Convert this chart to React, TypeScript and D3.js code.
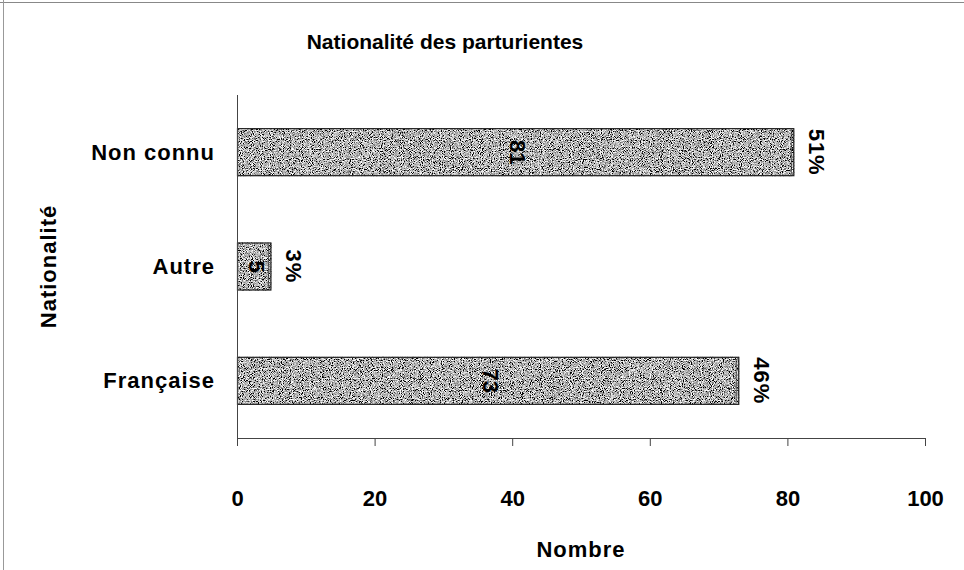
import React from 'react';
import * as d3 from 'd3';

// data
const categories = ['Non connu', 'Autre', 'Française'];
const counts = [81, 5, 73];
const xTicks = [0, 20, 40, 60, 80, 100];

const title = 'Nationalité des parturientes';
const xTitle = 'Nombre';
const yTitle = 'Nationalité';

const W = 964;
const H = 570;
const margin = { top: 95, right: 39, bottom: 132, left: 237 };
const font = '"Liberation Sans", Arial, sans-serif';

export default function App() {
    const innerW = W - margin.left - margin.right;
    const innerH = H - margin.top - margin.bottom;
    const total = d3.sum(counts);

    const x = d3.scaleLinear().domain([0, 100]).range([0, innerW]);
    const y = d3.scaleBand<string>()
        .domain(categories)
        .range([0, innerH])
        .paddingInner(0.58)
        .paddingOuter(0.29);

    return (
        <svg
            width={W}
            height={H}
            style={{ position: 'fixed', left: 0, top: 0, background: '#fff' }}
        >
            <defs>
                {/* scanned-looking speckle fill */}
                <filter id="grain" x="0" y="0" width="100%" height="100%">
                    <feTurbulence type="fractalNoise" baseFrequency="1.1" numOctaves="1" seed="7" result="n" />
                    <feColorMatrix
                        in="n"
                        type="matrix"
                        values="2 2 2 0 -2.55  2 2 2 0 -2.55  2 2 2 0 -2.55  0 0 0 0 1"
                        result="g"
                    />
                    <feComposite in="g" in2="SourceGraphic" operator="in" />
                </filter>
            </defs>

            {/* frame */}
            <line x1={0} x2={W} y1={2.5} y2={2.5} stroke="#888" strokeWidth={1} />
            <line x1={3.5} x2={3.5} y1={0} y2={H} stroke="#999" strokeWidth={1} />

            <text
                x={445}
                y={49}
                textAnchor="middle"
                fontFamily={font}
                fontWeight="bold"
                fontSize={21}
            >
                {title}
            </text>

            <g transform={`translate(${margin.left},${margin.top})`}>
                {/* bars */}
                {categories.map((c, i) => {
                    const by = y(c) ?? 0;
                    const bw = x(counts[i]);
                    const cy = by + y.bandwidth() / 2;
                    return (
                        <g key={c}>
                            <rect
                                x={0}
                                y={by}
                                width={bw}
                                height={y.bandwidth()}
                                fill="#999"
                                filter="url(#grain)"
                            />
                            <rect
                                x={0.5}
                                y={by + 0.5}
                                width={bw - 1}
                                height={y.bandwidth() - 1}
                                fill="none"
                                stroke="#222"
                                strokeWidth={1.2}
                            />
                            <line
                                x1={bw - 3}
                                x2={bw - 3}
                                y1={by + 2}
                                y2={by + y.bandwidth() - 2}
                                stroke="#333"
                                strokeWidth={0.8}
                            />
                            <text
                                transform={`translate(${bw / 2 + 2},${cy}) rotate(90)`}
                                textAnchor="middle"
                                dominantBaseline="central"
                                fontFamily={font}
                                fontWeight="bold"
                                fontSize={22}
                            >
                                {counts[i]}
                            </text>
                            <text
                                transform={`translate(${bw + 22},${cy}) rotate(90)`}
                                textAnchor="middle"
                                dominantBaseline="central"
                                fontFamily={font}
                                fontWeight="bold"
                                fontSize={22}
                                letterSpacing={1}
                            >
                                {`${Math.round((counts[i] / total) * 100)}%`}
                            </text>
                            <text
                                x={-22}
                                y={cy}
                                textAnchor="end"
                                dominantBaseline="central"
                                fontFamily={font}
                                fontWeight="bold"
                                fontSize={22}
                                letterSpacing={1}
                            >
                                {c}
                            </text>
                        </g>
                    );
                })}

                {/* axes */}
                <line x1={0.5} x2={0.5} y1={0} y2={innerH} stroke="#444" />
                <line x1={0} x2={innerW} y1={innerH + 0.5} y2={innerH + 0.5} stroke="#444" />
                {xTicks.map((t) => (
                    <g key={t} transform={`translate(${x(t) + 0.5},${innerH})`}>
                        <line y1={0} y2={8} stroke="#444" />
                        <text
                            y={60}
                            textAnchor="middle"
                            dominantBaseline="central"
                            fontFamily={font}
                            fontWeight="bold"
                            fontSize={22}
                        >
                            {t}
                        </text>
                    </g>
                ))}
            </g>

            <text
                x={margin.left + innerW / 2}
                y={549}
                textAnchor="middle"
                dominantBaseline="central"
                fontFamily={font}
                fontWeight="bold"
                fontSize={22}
                letterSpacing={1}
            >
                {xTitle}
            </text>
            <text
                transform={`translate(48,${margin.top + innerH / 2}) rotate(-90)`}
                textAnchor="middle"
                dominantBaseline="central"
                fontFamily={font}
                fontWeight="bold"
                fontSize={22}
                letterSpacing={1}
            >
                {yTitle}
            </text>
        </svg>
    );
}
